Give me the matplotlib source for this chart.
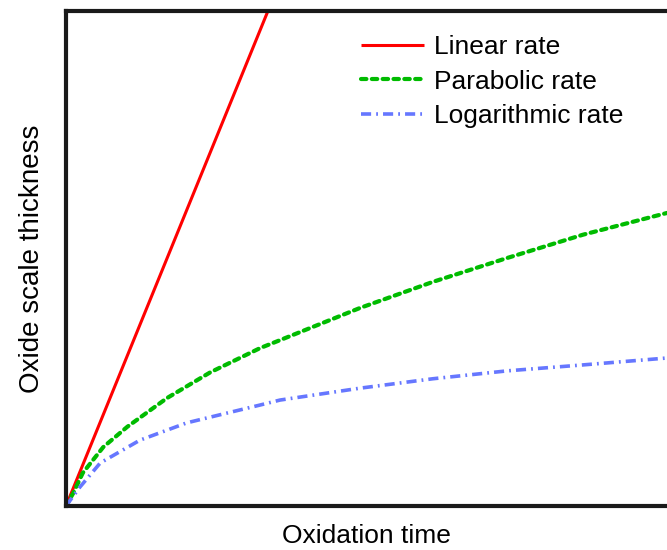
import matplotlib.pyplot as plt

# values (time and thickness in arbitrary units, 0..10)
linear_t = [0.0, 3.36]
linear_h = [0.0, 10.0]

parabolic_t = [0.0, 0.12, 0.28, 0.62, 1.02, 1.68, 2.40, 3.23, 3.56, 4.89, 6.11, 7.34, 8.60, 10.0]
parabolic_h = [0.0, 0.26, 0.67, 1.19, 1.60, 2.18, 2.70, 3.19, 3.35, 4.00, 4.53, 5.01, 5.48, 5.92]

log_t = [0.0, 0.23, 0.57, 1.23, 2.01, 3.23, 3.56, 4.89, 6.10, 7.34, 8.60, 10.0]
log_h = [0.0, 0.38, 0.87, 1.33, 1.68, 2.04, 2.14, 2.38, 2.57, 2.73, 2.85, 2.99]

labels = ["Linear rate", "Parabolic rate", "Logarithmic rate"]

plt.rcParams['font.family'] = ['Liberation Sans', 'DejaVu Sans']

fig = plt.figure(figsize=(6.67, 5.5), dpi=100)
ax = fig.add_axes([66 / 667, 44 / 550, 601 / 667, 495 / 550])

ax.plot(linear_t, linear_h, color='#ff0000', lw=2.2, label=labels[0], solid_capstyle='butt')
ax.plot(parabolic_t, parabolic_h, color='#00bb00', lw=3, dashes=(1.3, 1.3),
        dash_capstyle='round', label=labels[1])
ax.plot(log_t, log_h, color='#6677ff', lw=2.6, dashes=(2.8, 1.4, 0.5, 1.4), label=labels[2])

ax.set_xlim(0, 10)
ax.set_ylim(0, 10)
ax.set_xticks([])
ax.set_yticks([])
for side in ['left', 'top', 'bottom']:
    ax.spines[side].set_linewidth(3)
    ax.spines[side].set_color('#1a1a1a')
ax.spines['right'].set_visible(False)

ax.set_xlabel("Oxidation time", fontsize=19, labelpad=13)
ax.set_ylabel("Oxide scale thickness", fontsize=20, labelpad=15)

ax.legend(loc='upper left', bbox_to_anchor=(284 / 601, 0.972), frameon=False,
          fontsize=19, handlelength=2.4, handletextpad=0.4, labelspacing=0.39,
          borderaxespad=0)

fig.savefig("out.png", dpi=100)
